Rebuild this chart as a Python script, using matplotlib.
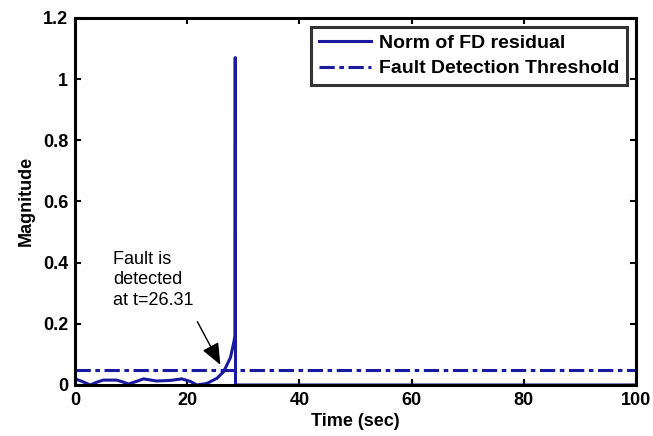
import matplotlib
matplotlib.use("Agg")
import matplotlib.pyplot as plt
import numpy as np

plt.rcParams['font.family'] = ['Liberation Sans', 'DejaVu Sans']
plt.rcParams['font.weight'] = 'bold'

# residual norm
t_res = [0, 1.2, 2.7, 4, 5, 7.4, 8.5, 9.5, 11, 12.2, 14.5, 17, 19, 20.5, 21.7, 23.5, 25.3, 26.5, 27.7, 28.3, 28.5, 28.55, 28.6, 100]
r_res = [0.02, 0.012, 0.0, 0.01, 0.016, 0.016, 0.01, 0.003, 0.012, 0.02, 0.013, 0.015, 0.02, 0.012, 0.0, 0.005, 0.022, 0.044, 0.09, 0.14, 0.16, 1.07, 0.0, 0.0]
threshold = 0.05
x_limits = [0, 100]
y_limits = [0, 1.2]
x_ticks = [0, 20, 40, 60, 80, 100]
y_ticks = [0, 0.2, 0.4, 0.6, 0.8, 1, 1.2]
y_ticklabels = ['0', '0.2', '0.4', '0.6', '0.8', '1', '1.2']

color = '#1a1aa0'

fig = plt.figure(figsize=(6.53, 4.36), dpi=100)
ax = fig.add_axes([0.115, 0.117, 0.859, 0.842])
ax.plot(t_res, r_res, color=color, lw=2.2, label='Norm of FD residual')
ax.axhline(threshold, color=color, lw=2.2, ls=(0, (5, 1.5, 1.5, 1.5)), label='Fault Detection Threshold')
ax.set_xlim(x_limits)
ax.set_ylim(y_limits)
ax.set_xticks(x_ticks)
ax.set_yticks(y_ticks)
ax.set_yticklabels(y_ticklabels)
ax.tick_params(direction='in', top=True, right=True, labelsize=13, width=1.5, length=4, pad=5)
for s in ax.spines.values():
    s.set_linewidth(2.2)
ax.set_xlabel('Time (sec)', fontsize=13, fontweight='bold', labelpad=3)
ax.set_ylabel('Magnitude', fontsize=13, fontweight='bold', labelpad=6)

ax.text(6.8, 0.25, 'Fault is\ndetected\nat t=26.31', fontsize=13, fontweight='normal',
        ha='left', va='bottom', linespacing=1.25)
ax.annotate('', xy=(25.9, 0.066), xytext=(21.8, 0.207),
            arrowprops=dict(arrowstyle='-|>,head_length=0.6,head_width=0.25', color='black', lw=1,
                            mutation_scale=22, shrinkA=0, shrinkB=0))

leg = ax.legend(loc='upper right', fontsize=14, frameon=True, fancybox=False,
                edgecolor='black', handlelength=2.7, handletextpad=0.4,
                borderpad=0.4, labelspacing=0.4, borderaxespad=0.45)
leg.get_frame().set_linewidth(2.2)

fig.savefig('out.png', dpi=100)
